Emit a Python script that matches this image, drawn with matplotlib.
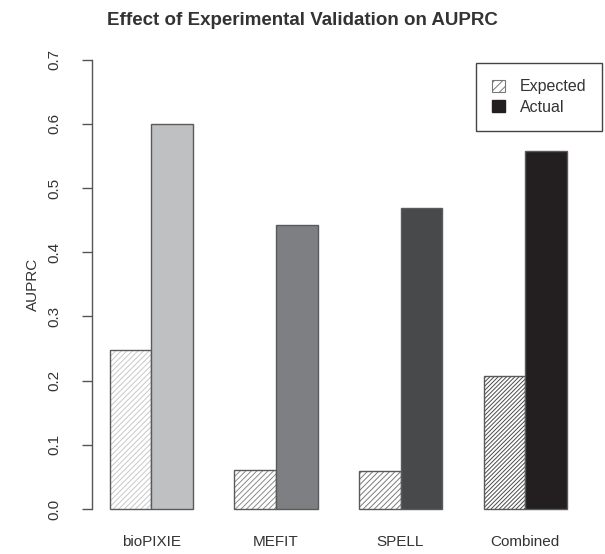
import numpy as np
import matplotlib
matplotlib.use('Agg')
import matplotlib.pyplot as plt
from matplotlib.patches import Patch

plt.rcParams['font.family'] = ['Liberation Sans', 'DejaVu Sans']
plt.rcParams['hatch.linewidth'] = 0.7

methods = ['bioPIXIE', 'MEFIT', 'SPELL', 'Combined']
expected = [0.247, 0.061, 0.059, 0.207]
actual = [0.599, 0.443, 0.469, 0.558]

actual_cols = ['#bfc0c2', '#7e7f83', '#48494b', '#231f20']
hatch_cols = ['#c8c8c8', '#8a8a8a', '#7a7a7a', '#4a4a4a']
hatches = ['//////', '//////', '//////', '////////']
edge = '#5a5a5a'

fig = plt.figure(figsize=(6.05, 5.54), dpi=100)
ax = fig.add_axes([0.1516, 0.0487, 0.815, 0.8763])

# R style barplot: beside=TRUE, group gap = 1 bar width
x_exp = np.arange(len(methods)) * 3 + 1.5
x_act = x_exp + 1

for i in range(len(methods)):
    ax.bar(x_exp[i], expected[i], width=1, color='white', hatch=hatches[i],
           edgecolor=hatch_cols[i], linewidth=0)
    ax.bar(x_exp[i], expected[i], width=1, fill=False, edgecolor=edge, linewidth=1.0)
    ax.bar(x_act[i], actual[i], width=1, color=actual_cols[i], edgecolor=edge, linewidth=1.0)

ax.set_xlim(0.56, 12.44)
ax.set_ylim(-0.028, 0.728)

for s in ['top', 'right', 'bottom']:
    ax.spines[s].set_visible(False)
ax.spines['left'].set_bounds(0, 0.7)
ax.spines['left'].set_color('#555555')
ax.spines['left'].set_linewidth(1.0)

ax.set_yticks(np.arange(0, 0.71, 0.1))
ax.set_yticklabels(['%.1f' % v for v in np.arange(0, 0.71, 0.1)], rotation=90,
                   va='center', fontsize=11, color='#333333')
ax.tick_params(axis='y', length=7, width=1.0, color='#555555', pad=15)
ax.set_ylabel('AUPRC', fontsize=11, color='#333333', labelpad=5)

ax.set_xticks((x_exp + x_act) / 2)
ax.set_xticklabels(methods, fontsize=11, color='#333333')
ax.tick_params(axis='x', length=0, pad=6)

fig.text(0.5, 0.963, 'Effect of Experimental Validation on AUPRC', ha='center',
         va='center', fontsize=13.5, fontweight='bold', color='#333333')

handles = [Patch(facecolor='white', edgecolor='#777777', hatch='////', linewidth=0.8),
           Patch(facecolor='#231f20', edgecolor='#231f20')]
leg = ax.legend(handles, ['Expected', 'Actual'], loc='upper right',
                bbox_to_anchor=(1.045, 0.965), fontsize=11.5, fancybox=False,
                framealpha=1, edgecolor='#444444', handlelength=0.8,
                handleheight=0.8, handletextpad=0.9, borderpad=1.0,
                labelspacing=0.35, borderaxespad=0.3)
leg.get_frame().set_linewidth(1.0)
for t in leg.get_texts():
    t.set_color('#333333')

fig.savefig('out.png', dpi=100)
